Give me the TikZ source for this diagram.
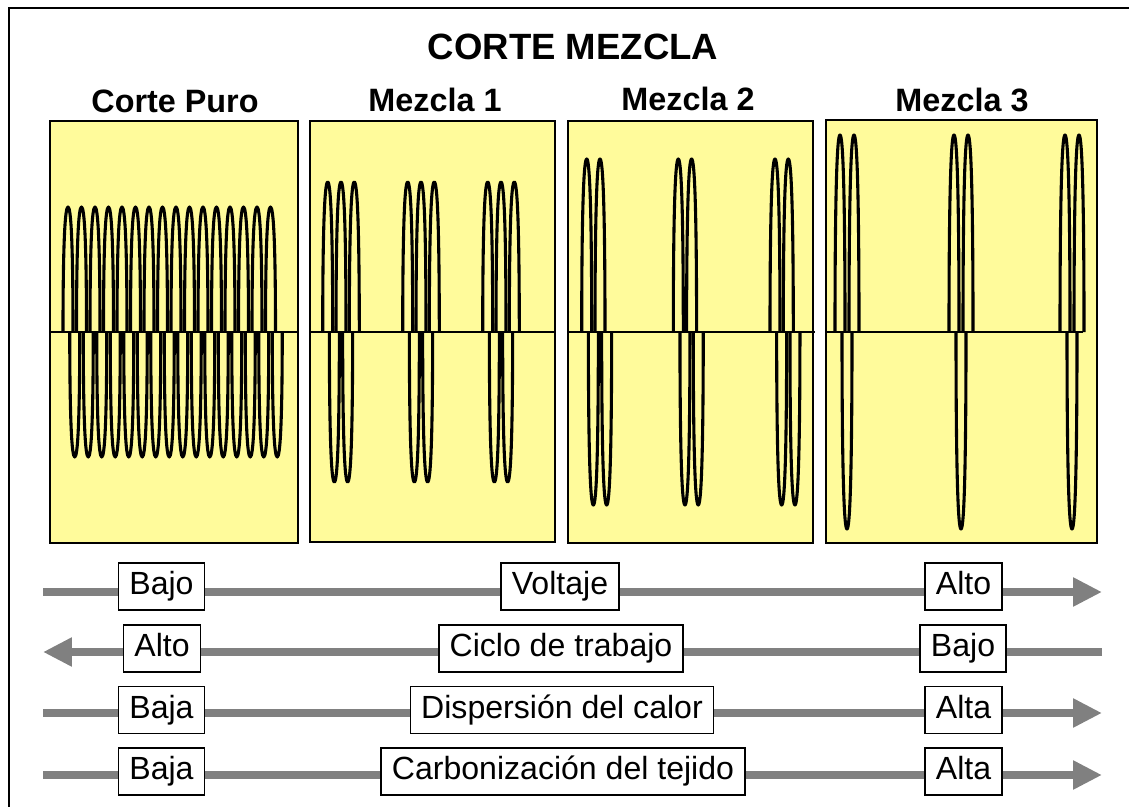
\documentclass[tikz,border=0pt]{standalone}
\usepackage{fontspec}
\setmainfont{Liberation Sans}
\usetikzlibrary{arrows.meta}
\definecolor{panelyellow}{RGB}{255,251,155}
\definecolor{bargray}{RGB}{128,128,128}

\begin{document}
\begin{tikzpicture}[x=0.025cm, y=-0.025cm,
    panel/.style={draw, line width=1.4pt, fill=panelyellow},
    wave/.style={line width=2.2pt, line join=round},
    heading/.style={font=\fontsize{23}{26}\selectfont\bfseries},
    tagbox/.style={draw, fill=white, line width=1.1pt, font=\fontsize{22.8}{26}\selectfont,
      minimum height=1.17cm, inner xsep=0.27cm, text height=16.5pt, text depth=4.7pt},
    bar/.style={draw=bargray, line width=5.7pt},
    headed/.style={-{Triangle[length=0.72cm, width=0.68cm]}}]

        \useasboundingbox (0,0) rectangle (1129,807);
        % Outer frame (cut at the right and bottom)
        \draw[line width=1.4pt] (9,807) -- (9,8) -- (1129,8);

        % Titles
        \node[font=\fontsize{26}{30}\selectfont\bfseries] (title) at (573,46.5) {CORTE MEZCLA};
        \node[heading] (puro-t) at (175,101) {Corte Puro};
        \node[heading] (mez1-t) at (435,100) {Mezcla 1};
        \node[heading] (mez2-t) at (688,99) {Mezcla 2};
        \node[heading] (mez3-t) at (962,100) {Mezcla 3};

        % Yellow panels
        \draw[panel] (50,121) rectangle (298,543);
        \draw[panel] (310,121) rectangle (555,542);
        \draw[panel] (568,121) rectangle (813,543);
        \draw[panel] (826,120) rectangle (1097,543);

        % Zero lines
        \draw[line width=1.4pt] (50,332) -- (298,332);
        \draw[line width=1.4pt] (310,332) -- (555,332);
        \draw[line width=1.4pt] (568,332) -- (815,332);
        \draw[line width=1.4pt] (826,332) -- (1083,332);

        % Bursts: start / upper humps / lower humps / amplitude / spacing
        \foreach \bx/\nu/\nd/\h/\s in {68/15/15/125/13.5,
            327.7/2/1/150/13.3, 407.7/2/1/150/13.3, 487.7/2/1/150/13.3,
            586.7/1/1/173/13.3, 678.3/1/1/173/13.3, 775/1/1/173/13.3,
            840/1/0/197/14, 954/1/0/197/14, 1065/1/0/197/14} {
          % upper humps
          \foreach \i in {0,...,\nu} {
            \pgfmathsetmacro{\xc}{\bx+\s*\i}
            \draw[wave] ({\xc-5},332) .. controls ({\xc-5},{332-0.7*\h}) and ({\xc-3},{332-\h}) .. (\xc,{332-\h})
              .. controls ({\xc+3},{332-\h}) and ({\xc+5},{332-0.7*\h}) .. ({\xc+5},332);
          }
          % lower humps
          \foreach \i in {0,...,\nd} {
            \pgfmathsetmacro{\xc}{\bx+\s*\i+\s/2}
            \draw[wave] ({\xc-5},332) .. controls ({\xc-5},{332+0.7*\h}) and ({\xc-3},{332+\h}) .. (\xc,{332+\h})
              .. controls ({\xc+3},{332+\h}) and ({\xc+5},{332+0.7*\h}) .. ({\xc+5},332);
          }
        }

        % Voltaje
        \coordinate (volt-w) at (43,592);
        \coordinate (volt-e) at (1102,592);
        \draw[bar, headed] (volt-w) -- (volt-e);
        \node[tagbox] (volt-lo) at (161.5,586.5) {Bajo};
        \node[tagbox] (volt-m) at (560,586.5) {Voltaje};
        \node[tagbox] (volt-hi) at (963.5,586.5) {Alto};

        % Ciclo de trabajo (arrow back)
        \coordinate (ciclo-w) at (43,652);
        \coordinate (ciclo-e) at (1102,652);
        \draw[bar, headed] (ciclo-e) -- (ciclo-w);
        \node[tagbox] (ciclo-hi) at (162,648.5) {Alto};
        \node[tagbox] (ciclo-m) at (561,648.5) {Ciclo de trabajo};
        \node[tagbox] (ciclo-lo) at (963,648.5) {Bajo};

        % Dispersion del calor
        \coordinate (disp-w) at (43,713);
        \coordinate (disp-e) at (1102,713);
        \draw[bar, headed] (disp-w) -- (disp-e);
        \node[tagbox] (disp-lo) at (161.5,710) {Baja};
        \node[tagbox] (disp-m) at (562,710) {Dispersión del calor};
        \node[tagbox] (disp-hi) at (963.5,710) {Alta};

        % Carbonizacion del tejido
        \coordinate (carb-w) at (43,775);
        \coordinate (carb-e) at (1102,775);
        \draw[bar, headed] (carb-w) -- (carb-e);
        \node[tagbox] (carb-lo) at (161.5,771.5) {Baja};
        \node[tagbox] (carb-m) at (563,771.5) {Carbonización del tejido};
        \node[tagbox] (carb-hi) at (963.5,771.5) {Alta};

\end{tikzpicture}
\end{document}
